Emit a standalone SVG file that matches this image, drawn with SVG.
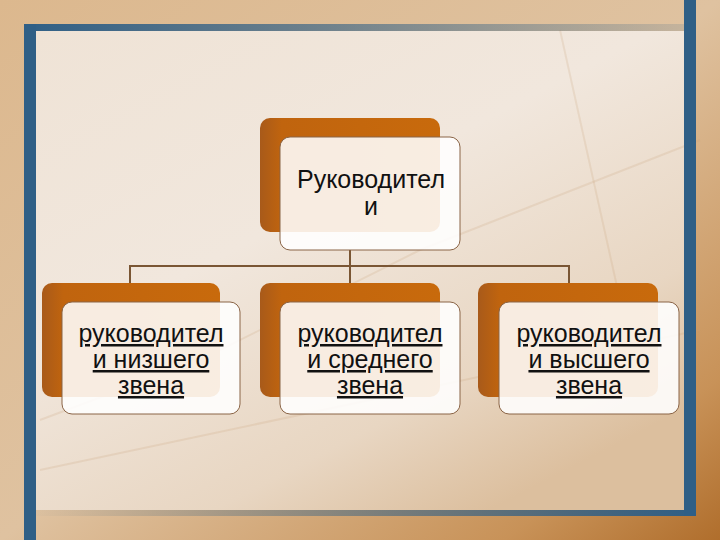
<svg xmlns="http://www.w3.org/2000/svg" width="720" height="540" viewBox="0 0 720 540">
<defs>
<linearGradient id="outer" x1="0" y1="0" x2="1" y2="1">
<stop offset="0" stop-color="#dcb88e"/>
<stop offset="0.5" stop-color="#dfc2a0"/>
<stop offset="0.85" stop-color="#c89258"/>
<stop offset="1" stop-color="#b06e2c"/>
</linearGradient>
<linearGradient id="inner" x1="0" y1="0" x2="0.7" y2="1">
<stop offset="0" stop-color="#efe3d6"/>
<stop offset="0.45" stop-color="#f1e7dd"/>
<stop offset="0.8" stop-color="#e8d6c2"/>
<stop offset="1" stop-color="#dcbf9e"/>
</linearGradient>
<linearGradient id="topbar" x1="0" y1="0" x2="1" y2="0">
<stop offset="0" stop-color="#2f5f86"/>
<stop offset="0.5" stop-color="#2f5f86" stop-opacity="0.6"/>
<stop offset="1" stop-color="#2f5f86" stop-opacity="0.15"/>
</linearGradient>
<linearGradient id="botbar" x1="0" y1="0" x2="1" y2="0">
<stop offset="0" stop-color="#2f5f86" stop-opacity="0"/>
<stop offset="0.35" stop-color="#2f5f86" stop-opacity="0.35"/>
<stop offset="1" stop-color="#2f5f86"/>
</linearGradient>
<linearGradient id="orange" x1="0" y1="0" x2="1" y2="0">
<stop offset="0" stop-color="#a85a1a"/>
<stop offset="0.12" stop-color="#c0640e"/>
<stop offset="1" stop-color="#c86a0c"/>
</linearGradient>
<style>
.back{fill:url(#orange);}
.front{fill:#ffffff;fill-opacity:0.88;stroke:#8a6446;stroke-width:1;}
.t{font-family:"Liberation Sans",Arial,sans-serif;font-size:25px;fill:#111;text-anchor:middle;}
.u{text-decoration:underline;}
.conn{stroke:#7a5634;stroke-width:2;fill:none;}
.chart{stroke:#c9a27a;stroke-opacity:0.2;fill:none;stroke-width:2;}
</style>
</defs>
<rect x="0" y="0" width="720" height="540" fill="url(#outer)"/>
<rect x="36" y="31" width="648" height="479" fill="url(#inner)"/>
<g class="chart">
<path d="M40 420 L200 360 L420 250 L700 140"/>
<path d="M560 30 L620 300"/>
<path d="M40 470 L700 330"/>
</g>
<rect x="24" y="24" width="12" height="516" fill="#2f5f86"/>
<rect x="24" y="24" width="660" height="7" fill="url(#topbar)"/>
<rect x="684" y="0" width="12" height="516" fill="#2f5f86"/>
<rect x="24" y="510" width="672" height="6" fill="url(#botbar)"/>
<g id="connectors">
<path class="conn" d="M350 250 V266 M130 266 H569 M130 265 V283 M350 265 V283 M569 265 V283"/>
</g>
<g id="node-top">
<rect class="back" x="260" y="118" width="180" height="114" rx="10"/>
<rect class="front" x="280" y="137" width="180" height="113" rx="10"/>
<text class="t" x="371" y="188">Руководител</text>
<text class="t" x="371" y="215">и</text>
</g>
<g id="node-low">
<rect class="back" x="42" y="283" width="178" height="114" rx="10"/>
<rect class="front" x="62" y="302" width="178" height="112" rx="10"/>
<text class="t u" x="151" y="342">руководител</text>
<text class="t u" x="151" y="368">и низшего</text>
<text class="t u" x="151" y="394">звена</text>
</g>
<g id="node-mid">
<rect class="back" x="260" y="283" width="180" height="114" rx="10"/>
<rect class="front" x="280" y="302" width="180" height="112" rx="10"/>
<text class="t u" x="370" y="342">руководител</text>
<text class="t u" x="370" y="368">и среднего</text>
<text class="t u" x="370" y="394">звена</text>
</g>
<g id="node-high">
<rect class="back" x="478" y="283" width="180" height="114" rx="10"/>
<rect class="front" x="499" y="302" width="180" height="112" rx="10"/>
<text class="t u" x="589" y="342">руководител</text>
<text class="t u" x="589" y="368">и высшего</text>
<text class="t u" x="589" y="394">звена</text>
</g>
</svg>
